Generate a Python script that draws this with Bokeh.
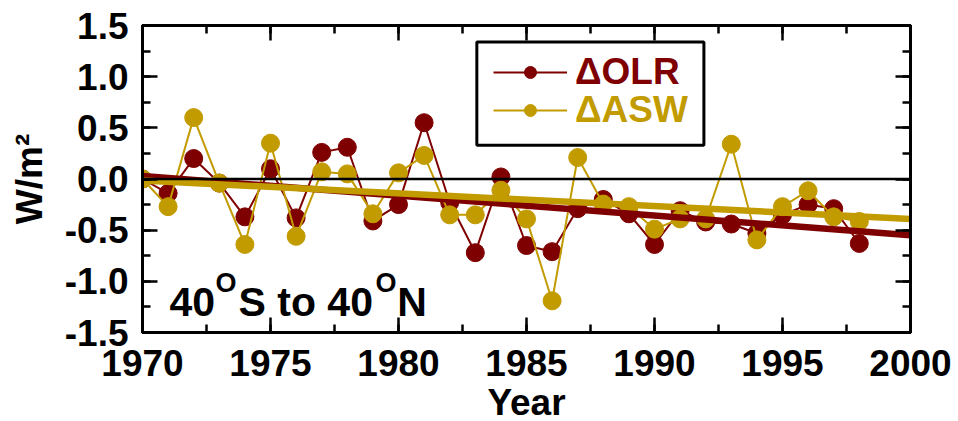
from bokeh.plotting import figure
from bokeh.models import (LinearAxis, Range1d, Legend, LegendItem, Label, Span,
                          BoxAnnotation, SingleIntervalTicker, NumeralTickFormatter,
                          CustomJSTickFormatter)
from bokeh.embed import file_html
from bokeh.resources import INLINE

years = list(range(1970, 1999))
olr = [0.00, -0.14, 0.20, -0.04, -0.37, 0.10, -0.38, 0.26, 0.31, -0.41,
       -0.25, 0.55, -0.23, -0.72, 0.02, -0.65, -0.71, -0.29, -0.20, -0.34,
       -0.64, -0.31, -0.42, -0.44, -0.53, -0.35, -0.25, -0.29, -0.63]
asw = [0.00, -0.27, 0.60, -0.04, -0.64, 0.35, -0.56, 0.07, 0.05, -0.34,
       0.06, 0.23, -0.35, -0.35, -0.11, -0.39, -1.19, 0.21, -0.245, -0.27,
       -0.49, -0.39, -0.39, 0.34, -0.595, -0.27, -0.115, -0.37, -0.415]
trend_years = [1970, 2000]
olr_trend = [0.03, -0.55]
asw_trend = [-0.015, -0.39]

OLR_C = "#7F0000"
ASW_C = "#C29B00"
FONT = "Liberation Sans"

p = figure(frame_width=768, frame_height=307,
           min_border_left=142, min_border_right=48, min_border_top=25, min_border_bottom=89,
           x_range=Range1d(1970, 2000), y_range=Range1d(-1.5, 1.5),
           output_backend="svg", toolbar_location=None,
           x_axis_label="Year", y_axis_label="W/m²")
p.xgrid.grid_line_color = None
p.ygrid.grid_line_color = None
p.outline_line_color = "black"
p.outline_line_width = 3

xt = SingleIntervalTicker(interval=5, num_minor_ticks=2)
yt = SingleIntervalTicker(interval=0.5, num_minor_ticks=2)

def style(ax):
    ax.axis_line_width = 3
    ax.major_tick_in = 15
    ax.major_tick_out = 0
    ax.minor_tick_in = 8
    ax.minor_tick_out = 0
    ax.major_tick_line_width = 2.5
    ax.minor_tick_line_width = 2.5
    ax.major_label_text_font = FONT
    ax.major_label_text_font_style = "bold"
    ax.major_label_text_color = "black"
    ax.major_label_text_font_size = "37px"
    ax.axis_label_text_font = FONT
    ax.axis_label_text_font_style = "bold"
    ax.axis_label_text_font_size = "37px"
    ax.axis_label_text_color = "black"

p.xaxis.ticker = xt
p.yaxis.ticker = yt
p.yaxis.formatter = NumeralTickFormatter(format="0.0")
style(p.xaxis[0])
style(p.yaxis[0])
p.xaxis.major_label_standoff = 17
p.yaxis.major_label_standoff = 14
p.xaxis.axis_label_standoff = 3
p.yaxis.axis_label_standoff = 12

blank = CustomJSTickFormatter(code="return '';")
top = LinearAxis(ticker=SingleIntervalTicker(interval=5, num_minor_ticks=2), formatter=blank)
right = LinearAxis(ticker=SingleIntervalTicker(interval=0.5, num_minor_ticks=2), formatter=blank)
style(top)
style(right)
p.add_layout(top, "above")
p.add_layout(right, "right")

ol = p.line(years, olr, line_color=OLR_C, line_width=2)
os_ = p.scatter(years, olr, size=18, fill_color=OLR_C, line_color=OLR_C)
al = p.line(years, asw, line_color=ASW_C, line_width=2)
as_ = p.scatter(years, asw, size=18, fill_color=ASW_C, line_color=ASW_C)
p.line(trend_years, olr_trend, line_color=OLR_C, line_width=6.5)
p.line(trend_years, asw_trend, line_color=ASW_C, line_width=6.5)

p.add_layout(Span(location=0, dimension="width", line_color="black", line_width=2.5))

# legend frame
p.add_layout(BoxAnnotation(left=1983.06, right=1991.93, top=1.339, bottom=0.329,
                           fill_color="white", fill_alpha=1.0, line_color="black",
                           line_alpha=1.0, line_width=3, level="annotation"))

def mk_legend(item, color, loc):
    lg = Legend(items=[item], location=loc, orientation="vertical",
                border_line_color=None, background_fill_alpha=0,
                padding=0, margin=0, spacing=0,
                glyph_width=74, glyph_height=30, label_height=30,
                label_standoff=8, label_text_font=FONT,
                label_text_font_style="bold", label_text_font_size="37px",
                label_text_color=color)
    return lg

p.add_layout(mk_legend(LegendItem(label="ΔOLR", renderers=[ol, os_]), OLR_C, (351, 239)))
p.add_layout(mk_legend(LegendItem(label="ΔASW", renderers=[al, as_]), ASW_C, (351, 201)))

# region annotation
big = dict(text_font=FONT, text_font_style="bold", text_color="black",
           text_baseline="alphabetic", text_font_size="41px")
small = dict(text_font=FONT, text_font_style="bold", text_color="black",
             text_baseline="alphabetic", text_font_size="27px")
p.add_layout(Label(x=1971.05, y=-1.203, text="40", **big))
p.add_layout(Label(x=1972.85, y=-1.02, text="O", **small))
p.add_layout(Label(x=1973.75, y=-1.203, text="S to 40", **big))
p.add_layout(Label(x=1979.1, y=-1.02, text="O", **small))
p.add_layout(Label(x=1979.95, y=-1.203, text="N", **big))

open("out.html", "w").write(file_html(p, INLINE))
